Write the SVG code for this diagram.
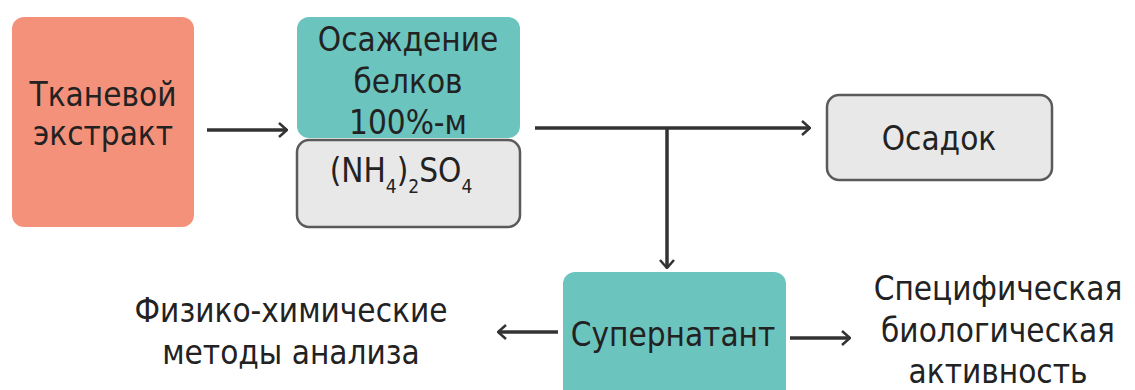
<svg xmlns="http://www.w3.org/2000/svg" width="1135" height="390" viewBox="0 0 1135 390">
<style>
text{font-family:"DejaVu Sans Condensed","Liberation Sans",sans-serif;font-size:33px;fill:#222;text-anchor:middle}
.gray{fill:#e8e8e8;stroke:#5a5a5a;stroke-width:2.5}
.teal{fill:#6cc4be}
.con{stroke:#333;stroke-width:3.5;fill:none}
</style>
<defs>
<marker id="ah" viewBox="0 0 12 16" refX="11" refY="8" markerWidth="12" markerHeight="16" markerUnits="userSpaceOnUse" orient="auto">
<path d="M3,1 L11,8 L3,15" fill="none" stroke="#333" stroke-width="2.5"/>
</marker>
</defs>
<rect width="1135" height="390" fill="#fff"/>
<g id="connectors">
<line class="con" x1="207" y1="130" x2="287" y2="130" marker-end="url(#ah)"/>
<line class="con" x1="535" y1="128" x2="810" y2="128" marker-end="url(#ah)"/>
<line class="con" x1="667" y1="128" x2="667" y2="268" marker-end="url(#ah)"/>
<line class="con" x1="558" y1="332" x2="498" y2="332" marker-end="url(#ah)"/>
<line class="con" x1="790" y1="338" x2="850" y2="338" marker-end="url(#ah)"/>
</g>
<g id="tissue">
<rect x="12" y="17" width="182" height="210" rx="12" fill="#f4917a"/>
<text x="103" y="106">Тканевой</text>
<text x="103" y="145">экстракт</text>
</g>
<g id="precip-step">
<rect class="gray" x="297" y="140" width="223" height="87" rx="12"/>
<rect class="teal" x="297" y="17" width="223" height="121" rx="12"/>
<text x="408" y="51">Осаждение</text>
<text x="408" y="93">белков</text>
<text x="408" y="134">100%-м</text>
<text x="401" y="182">(NH<tspan font-size="19" dy="11">4</tspan><tspan dy="-11">)</tspan><tspan font-size="19" dy="11">2</tspan><tspan dy="-11">SO</tspan><tspan font-size="19" dy="11">4</tspan></text>
</g>
<g id="osadok">
<rect class="gray" x="827" y="95" width="225" height="85" rx="12"/>
<text x="939" y="150">Осадок</text>
</g>
<g id="supernatant">
<rect class="teal" x="563" y="272" width="223" height="130" rx="12"/>
<text x="673" y="346">Супернатант</text>
</g>
<g id="physchem">
<text x="291" y="322">Физико-химические</text>
<text x="291" y="364">методы анализа</text>
</g>
<g id="bioact">
<text x="998" y="300">Специфическая</text>
<text x="998" y="342">биологическая</text>
<text x="998" y="383">активность</text>
</g>
</svg>
